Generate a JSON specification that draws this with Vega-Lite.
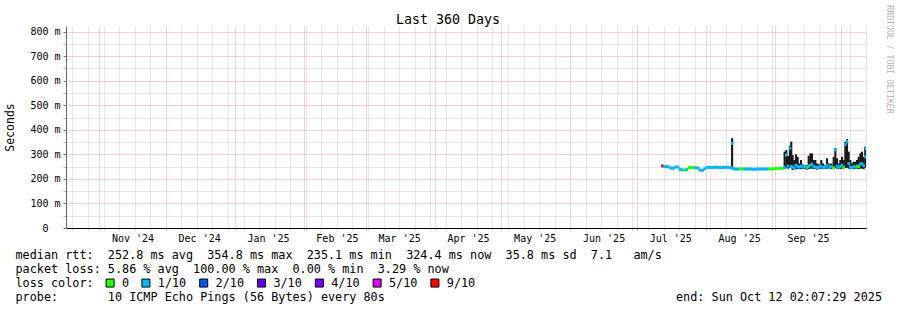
{
  "$schema": "https://vega.github.io/schema/vega-lite/v6.json",
  "width": 800,
  "height": 202,
  "autosize": "none",
  "padding": {"left": 66, "top": 26, "right": 31, "bottom": 82},
  "background": "white",
  "title": {"text": "Last 360 Days", "font": "DejaVu Sans Mono", "fontSize": 13.3, "fontWeight": "normal", "color": "#000000", "anchor": "middle", "frame": "group", "dx": -18, "dy": 35, "offset": 2, "baseline": "alphabetic"},
  "data": {"values": [
    {"t":"2025-07-12T12:00:00","lo":250,"med":253,"hi":256,"loss":"9/10"},
    {"t":"2025-07-13T12:00:00","lo":247,"med":250,"hi":253,"loss":"1/10"},
    {"t":"2025-07-14T12:00:00","lo":247,"med":250,"hi":253,"loss":"1/10"},
    {"t":"2025-07-15T12:00:00","lo":245,"med":248,"hi":251,"loss":"1/10"},
    {"t":"2025-07-16T12:00:00","lo":241,"med":244,"hi":247,"loss":"1/10"},
    {"t":"2025-07-17T12:00:00","lo":241,"med":244,"hi":247,"loss":"1/10"},
    {"t":"2025-07-18T12:00:00","lo":246,"med":249,"hi":252,"loss":"1/10"},
    {"t":"2025-07-19T12:00:00","lo":245,"med":248,"hi":251,"loss":"1/10"},
    {"t":"2025-07-20T12:00:00","lo":235,"med":238,"hi":241,"loss":"1/10"},
    {"t":"2025-07-21T12:00:00","lo":234,"med":237,"hi":240,"loss":"1/10"},
    {"t":"2025-07-22T12:00:00","lo":234,"med":237,"hi":240,"loss":"0"},
    {"t":"2025-07-23T12:00:00","lo":235,"med":238,"hi":241,"loss":"1/10"},
    {"t":"2025-07-24T12:00:00","lo":243,"med":246,"hi":249,"loss":"0"},
    {"t":"2025-07-25T12:00:00","lo":244,"med":247,"hi":250,"loss":"0"},
    {"t":"2025-07-26T12:00:00","lo":243,"med":246,"hi":249,"loss":"0"},
    {"t":"2025-07-27T12:00:00","lo":242,"med":245,"hi":248,"loss":"1/10"},
    {"t":"2025-07-28T12:00:00","lo":241,"med":244,"hi":247,"loss":"1/10"},
    {"t":"2025-07-29T12:00:00","lo":233,"med":236,"hi":239,"loss":"1/10"},
    {"t":"2025-07-30T12:00:00","lo":232,"med":235,"hi":238,"loss":"1/10"},
    {"t":"2025-07-31T12:00:00","lo":238,"med":241,"hi":244,"loss":"1/10"},
    {"t":"2025-08-01T12:00:00","lo":243,"med":246,"hi":250,"loss":"1/10"},
    {"t":"2025-08-02T12:00:00","lo":244,"med":247,"hi":251,"loss":"1/10"},
    {"t":"2025-08-03T12:00:00","lo":244,"med":247,"hi":251,"loss":"1/10"},
    {"t":"2025-08-04T12:00:00","lo":243,"med":246,"hi":250,"loss":"1/10"},
    {"t":"2025-08-05T12:00:00","lo":245,"med":248,"hi":252,"loss":"1/10"},
    {"t":"2025-08-06T12:00:00","lo":244,"med":247,"hi":251,"loss":"1/10"},
    {"t":"2025-08-07T12:00:00","lo":243,"med":246,"hi":250,"loss":"1/10"},
    {"t":"2025-08-08T12:00:00","lo":244,"med":247,"hi":251,"loss":"1/10"},
    {"t":"2025-08-09T12:00:00","lo":244,"med":247,"hi":251,"loss":"1/10"},
    {"t":"2025-08-10T12:00:00","lo":245,"med":248,"hi":252,"loss":"1/10"},
    {"t":"2025-08-11T12:00:00","lo":244,"med":247,"hi":251,"loss":"1/10"},
    {"t":"2025-08-12T12:00:00","lo":243,"med":246,"hi":250,"loss":"1/10"},
    {"t":"2025-08-12T20:00:00","lo":244,"med":345,"hi":366,"loss":"1/10"},
    {"t":"2025-08-13T12:00:00","lo":238,"med":241,"hi":244,"loss":"1/10"},
    {"t":"2025-08-14T12:00:00","lo":237,"med":240,"hi":243,"loss":"1/10"},
    {"t":"2025-08-15T12:00:00","lo":237,"med":240,"hi":243,"loss":"1/10"},
    {"t":"2025-08-16T12:00:00","lo":238,"med":241,"hi":244,"loss":"0"},
    {"t":"2025-08-17T12:00:00","lo":237,"med":240,"hi":243,"loss":"0"},
    {"t":"2025-08-18T12:00:00","lo":238,"med":241,"hi":244,"loss":"1/10"},
    {"t":"2025-08-19T12:00:00","lo":237,"med":240,"hi":243,"loss":"1/10"},
    {"t":"2025-08-20T12:00:00","lo":238,"med":241,"hi":244,"loss":"1/10"},
    {"t":"2025-08-21T12:00:00","lo":237,"med":240,"hi":243,"loss":"1/10"},
    {"t":"2025-08-22T12:00:00","lo":236,"med":239,"hi":242,"loss":"1/10"},
    {"t":"2025-08-23T12:00:00","lo":237,"med":240,"hi":243,"loss":"1/10"},
    {"t":"2025-08-24T12:00:00","lo":238,"med":241,"hi":244,"loss":"1/10"},
    {"t":"2025-08-25T12:00:00","lo":237,"med":240,"hi":243,"loss":"1/10"},
    {"t":"2025-08-26T12:00:00","lo":237,"med":240,"hi":243,"loss":"1/10"},
    {"t":"2025-08-27T12:00:00","lo":238,"med":241,"hi":244,"loss":"1/10"},
    {"t":"2025-08-28T12:00:00","lo":237,"med":240,"hi":243,"loss":"1/10"},
    {"t":"2025-08-29T12:00:00","lo":238,"med":241,"hi":244,"loss":"0"},
    {"t":"2025-08-30T12:00:00","lo":237,"med":240,"hi":243,"loss":"0"},
    {"t":"2025-08-31T12:00:00","lo":238,"med":241,"hi":244,"loss":"0"},
    {"t":"2025-09-01T12:00:00","lo":239,"med":242,"hi":245,"loss":"0"},
    {"t":"2025-09-02T12:00:00","lo":239,"med":242,"hi":245,"loss":"0"},
    {"t":"2025-09-03T12:00:00","lo":240,"med":243,"hi":246,"loss":"0"},
    {"t":"2025-09-04T12:00:00","lo":240,"med":243,"hi":246,"loss":"0"},
    {"t":"2025-09-05T11:00:00","lo":240,"med":246,"hi":311,"loss":"1/10"},
    {"t":"2025-09-06T05:00:00","lo":244,"med":297,"hi":318,"loss":"1/10"},
    {"t":"2025-09-06T23:00:00","lo":242,"med":252,"hi":294,"loss":"1/10"},
    {"t":"2025-09-07T21:00:00","lo":245,"med":325,"hi":335,"loss":"1/10"},
    {"t":"2025-09-08T11:00:00","lo":244,"med":250,"hi":352,"loss":"1/10"},
    {"t":"2025-09-09T02:00:00","lo":236,"med":248,"hi":297,"loss":"1/10"},
    {"t":"2025-09-09T20:00:00","lo":238,"med":243,"hi":277,"loss":"1/10"},
    {"t":"2025-09-10T14:00:00","lo":240,"med":256,"hi":300,"loss":"1/10"},
    {"t":"2025-09-11T08:00:00","lo":240,"med":250,"hi":290,"loss":"1/10"},
    {"t":"2025-09-12T02:00:00","lo":240,"med":248,"hi":263,"loss":"1/10"},
    {"t":"2025-09-12T20:00:00","lo":240,"med":252,"hi":277,"loss":"1/10"},
    {"t":"2025-09-13T14:00:00","lo":241,"med":249,"hi":259,"loss":"1/10"},
    {"t":"2025-09-14T19:00:00","lo":240,"med":250,"hi":256,"loss":"1/10"},
    {"t":"2025-09-15T13:00:00","lo":238,"med":246,"hi":256,"loss":"1/10"},
    {"t":"2025-09-16T07:00:00","lo":240,"med":252,"hi":294,"loss":"0"},
    {"t":"2025-09-17T01:00:00","lo":242,"med":256,"hi":304,"loss":"1/10"},
    {"t":"2025-09-17T19:00:00","lo":242,"med":260,"hi":304,"loss":"1/10"},
    {"t":"2025-09-18T13:00:00","lo":240,"med":250,"hi":277,"loss":"1/10"},
    {"t":"2025-09-19T07:00:00","lo":240,"med":248,"hi":277,"loss":"1/10"},
    {"t":"2025-09-20T01:00:00","lo":238,"med":246,"hi":263,"loss":"1/10"},
    {"t":"2025-09-20T19:00:00","lo":240,"med":248,"hi":260,"loss":"1/10"},
    {"t":"2025-09-21T23:00:00","lo":240,"med":252,"hi":277,"loss":"1/10"},
    {"t":"2025-09-22T18:00:00","lo":240,"med":246,"hi":263,"loss":"1/10"},
    {"t":"2025-09-23T19:00:00","lo":240,"med":248,"hi":256,"loss":"1/10"},
    {"t":"2025-09-24T13:00:00","lo":242,"med":255,"hi":284,"loss":"1/10"},
    {"t":"2025-09-25T07:00:00","lo":240,"med":246,"hi":263,"loss":"1/10"},
    {"t":"2025-09-26T12:00:00","lo":240,"med":250,"hi":263,"loss":"1/10"},
    {"t":"2025-09-27T13:00:00","lo":240,"med":245,"hi":290,"loss":"0"},
    {"t":"2025-09-28T07:00:00","lo":245,"med":318,"hi":325,"loss":"1/10"},
    {"t":"2025-09-29T01:00:00","lo":242,"med":252,"hi":284,"loss":"1/10"},
    {"t":"2025-09-29T19:00:00","lo":240,"med":248,"hi":263,"loss":"1/10"},
    {"t":"2025-09-30T13:00:00","lo":240,"med":250,"hi":277,"loss":"1/10"},
    {"t":"2025-10-01T07:00:00","lo":242,"med":256,"hi":290,"loss":"1/10"},
    {"t":"2025-10-02T01:00:00","lo":240,"med":246,"hi":277,"loss":"0"},
    {"t":"2025-10-02T19:00:00","lo":245,"med":340,"hi":352,"loss":"1/10"},
    {"t":"2025-10-03T13:00:00","lo":245,"med":352,"hi":362,"loss":"1/10"},
    {"t":"2025-10-04T07:00:00","lo":242,"med":262,"hi":311,"loss":"1/10"},
    {"t":"2025-10-05T01:00:00","lo":240,"med":248,"hi":277,"loss":"1/10"},
    {"t":"2025-10-05T19:00:00","lo":240,"med":246,"hi":263,"loss":"1/10"},
    {"t":"2025-10-06T13:00:00","lo":240,"med":250,"hi":270,"loss":"1/10"},
    {"t":"2025-10-07T07:00:00","lo":240,"med":248,"hi":270,"loss":"1/10"},
    {"t":"2025-10-08T01:00:00","lo":242,"med":252,"hi":277,"loss":"0"},
    {"t":"2025-10-08T19:00:00","lo":240,"med":250,"hi":290,"loss":"0"},
    {"t":"2025-10-09T13:00:00","lo":242,"med":260,"hi":304,"loss":"1/10"},
    {"t":"2025-10-10T07:00:00","lo":242,"med":262,"hi":311,"loss":"1/10"},
    {"t":"2025-10-11T01:00:00","lo":240,"med":254,"hi":290,"loss":"1/10"},
    {"t":"2025-10-11T19:00:00","lo":245,"med":290,"hi":331,"loss":"1/10"},
    {"t":"2025-10-12T01:00:00","lo":250,"med":324,"hi":331,"loss":"1/10"}
  ]},
  "encoding": {
    "x": {
      "field": "t", "type": "temporal",
      "scale": {"domain": [{"year": 2024, "month": 10, "date": 17, "hours": 2, "minutes": 7, "seconds": 29}, {"year": 2025, "month": 10, "date": 12, "hours": 2, "minutes": 7, "seconds": 29}]},
      "axis": {
        "values": [
          {"year":2024,"month":10,"date":20},{"year":2024,"month":10,"date":27},
          {"year":2024,"month":11,"date":1},{"year":2024,"month":11,"date":3},{"year":2024,"month":11,"date":10},{"year":2024,"month":11,"date":16},{"year":2024,"month":11,"date":17},{"year":2024,"month":11,"date":24},
          {"year":2024,"month":12,"date":1},{"year":2024,"month":12,"date":8},{"year":2024,"month":12,"date":15},{"year":2024,"month":12,"date":16},{"year":2024,"month":12,"date":22},{"year":2024,"month":12,"date":29},
          {"year":2025,"month":1,"date":1},{"year":2025,"month":1,"date":5},{"year":2025,"month":1,"date":12},{"year":2025,"month":1,"date":16},{"year":2025,"month":1,"date":19},{"year":2025,"month":1,"date":26},
          {"year":2025,"month":2,"date":1},{"year":2025,"month":2,"date":2},{"year":2025,"month":2,"date":9},{"year":2025,"month":2,"date":16},{"year":2025,"month":2,"date":23},
          {"year":2025,"month":3,"date":1},{"year":2025,"month":3,"date":2},{"year":2025,"month":3,"date":9},{"year":2025,"month":3,"date":16},{"year":2025,"month":3,"date":23},{"year":2025,"month":3,"date":30},
          {"year":2025,"month":4,"date":1},{"year":2025,"month":4,"date":6},{"year":2025,"month":4,"date":13},{"year":2025,"month":4,"date":16},{"year":2025,"month":4,"date":20},{"year":2025,"month":4,"date":27},
          {"year":2025,"month":5,"date":1},{"year":2025,"month":5,"date":4},{"year":2025,"month":5,"date":11},{"year":2025,"month":5,"date":16},{"year":2025,"month":5,"date":18},{"year":2025,"month":5,"date":25},
          {"year":2025,"month":6,"date":1},{"year":2025,"month":6,"date":8},{"year":2025,"month":6,"date":15},{"year":2025,"month":6,"date":16},{"year":2025,"month":6,"date":22},{"year":2025,"month":6,"date":29},
          {"year":2025,"month":7,"date":1},{"year":2025,"month":7,"date":6},{"year":2025,"month":7,"date":13},{"year":2025,"month":7,"date":16},{"year":2025,"month":7,"date":20},{"year":2025,"month":7,"date":27},
          {"year":2025,"month":8,"date":1},{"year":2025,"month":8,"date":3},{"year":2025,"month":8,"date":10},{"year":2025,"month":8,"date":16},{"year":2025,"month":8,"date":17},{"year":2025,"month":8,"date":24},{"year":2025,"month":8,"date":31},
          {"year":2025,"month":9,"date":1},{"year":2025,"month":9,"date":7},{"year":2025,"month":9,"date":14},{"year":2025,"month":9,"date":16},{"year":2025,"month":9,"date":21},{"year":2025,"month":9,"date":28},
          {"year":2025,"month":10,"date":1},{"year":2025,"month":10,"date":5},{"year":2025,"month":10,"date":12}
        ],
        "labelExpr": "date(datum.value) == 16 ? timeFormat(datum.value, \"%b '%y\") : ''",
        "labelFont": "DejaVu Sans Mono", "labelFontSize": 10, "labelColor": "#000000",
        "labelBaseline": "alphabetic", "labelAlign": "center", "labelAngle": 0, "labelPadding": 11.5,
        "labelOverlap": false, "labelFlush": false, "labelBound": false,
        "ticks": true, "tickSize": 2,
        "tickColor": {"condition": {"test": "date(datum.value) == 1", "value": "#e88a8a"}, "value": "#b8b8b8"},
        "tickOpacity": {"condition": {"test": "date(datum.value) == 16 && day(datum.value) != 0", "value": 0}, "value": 1},
        "grid": true,
        "gridColor": {"condition": {"test": "date(datum.value) == 1", "value": "#f5a3a3"}, "value": "#cfcfcf"},
        "gridOpacity": {"condition": {"test": "date(datum.value) == 16 && day(datum.value) != 0", "value": 0}, "value": 1},
        "gridDash": [1, 1], "gridWidth": 1,
        "domain": true, "domainColor": "#000000", "domainWidth": 1,
        "title": [
          "median rtt:\u00a0\u00a0252.8 ms avg\u00a0\u00a0354.8 ms max\u00a0\u00a0235.1 ms min\u00a0\u00a0324.4 ms now\u00a0\u00a035.8 ms sd\u00a0\u00a07.1\u00a0\u00a0\u00a0am/s",
          "packet loss: 5.86 % avg\u00a0\u00a0100.00 % max\u00a0\u00a00.00 % min\u00a0\u00a03.29 % now",
          "loss color:",
          "probe:\u00a0\u00a0\u00a0\u00a0\u00a0\u00a0\u00a010 ICMP Echo Pings (56 Bytes) every 80s\u00a0\u00a0\u00a0\u00a0\u00a0\u00a0\u00a0\u00a0\u00a0\u00a0\u00a0\u00a0\u00a0\u00a0\u00a0\u00a0\u00a0\u00a0\u00a0\u00a0\u00a0\u00a0\u00a0\u00a0\u00a0\u00a0\u00a0\u00a0\u00a0\u00a0\u00a0\u00a0\u00a0\u00a0\u00a0\u00a0\u00a0\u00a0\u00a0\u00a0\u00a0end: Sun Oct 12 02:07:29 2025"
        ],
        "titleFont": "DejaVu Sans Mono", "titleFontSize": 11.8, "titleFontWeight": "normal", "titleColor": "#000000",
        "titleAlign": "left", "titleAnchor": "start", "titleBaseline": "alphabetic",
        "titleX": -51, "titleY": 30.5, "titleLineHeight": 14
      }
    }
  },
  "layer": [
    {
      "mark": {"type": "rule", "color": "#1a1a1a", "strokeWidth": 2.1, "clip": true},
      "encoding": {
        "y": {
          "field": "lo", "type": "quantitative",
          "scale": {"domain": [0, 823], "nice": false, "zero": true},
          "axis": {
            "orient": "left",
            "values": [0, 50, 100, 150, 200, 250, 300, 350, 400, 450, 500, 550, 600, 650, 700, 750, 800],
            "labelExpr": "datum.value % 100 == 0 ? (datum.value == 0 ? '0' : datum.value + ' m') : ''",
            "labelFont": "DejaVu Sans Mono", "labelFontSize": 10, "labelColor": "#000000",
            "labelPadding": {"condition": {"test": "datum.value == 0", "value": 15}, "value": 3},
            "labelBaseline": "middle", "labelOverlap": false, "labelFlush": false, "labelBound": false,
            "ticks": true, "tickSize": 3,
            "tickColor": {"condition": {"test": "datum.value % 100 == 0", "value": "#707070"}, "value": "#b8b8b8"},
            "grid": true,
            "gridColor": {"condition": {"test": "datum.value % 100 == 0", "value": "#f5a3a3"}, "value": "#cfcfcf"},
            "gridDash": [1, 1], "gridWidth": 1,
            "domain": true, "domainColor": "#666666", "domainWidth": 1,
            "title": "Seconds",
            "titleFont": "DejaVu Sans Mono", "titleFontSize": 11.5, "titleFontWeight": "normal", "titleColor": "#000000",
            "titleAngle": -90, "titleAlign": "center", "titleBaseline": "middle",
            "titleX": -55.5, "titleY": 101
          }
        },
        "y2": {"field": "hi"}
      }
    },
    {
      "mark": {"type": "tick", "orient": "horizontal", "size": 2.6, "thickness": 3, "opacity": 1, "clip": true},
      "encoding": {
        "y": {
          "field": "med", "type": "quantitative",
          "scale": {"domain": [0, 823], "nice": false, "zero": true},
          "axis": {
            "orient": "right", "labels": false, "ticks": false, "domain": false, "grid": false,
            "title": "RRDTOOL / TOBI OETIKER",
            "titleFont": "DejaVu Sans Mono", "titleFontSize": 8.2, "titleFontWeight": "normal", "titleColor": "#b4b4b4",
            "titleAngle": 90, "titleAlign": "center", "titleBaseline": "middle",
            "titleX": 22, "titleY": 33
          }
        },
        "color": {
          "field": "loss", "type": "nominal",
          "scale": {"domain": ["0", "1/10", "2/10", "3/10", "4/10", "5/10", "9/10"], "range": ["#26ff00", "#00b8ff", "#0059ff", "#5e00ff", "#7e00ff", "#dd00ff", "#ff0000"]},
          "legend": {
            "title": null, "orient": "none", "legendX": 38.2, "legendY": 251,
            "direction": "horizontal", "columns": 7, "padding": 0, "rowPadding": 0, "columnPadding": 9.8,
            "labelFont": "DejaVu Sans Mono", "labelFontSize": 11.8, "labelColor": "#000000", "labelOffset": 6,
            "symbolType": "square", "symbolSize": 64, "symbolStrokeColor": "#000000", "symbolStrokeWidth": 1, "symbolOpacity": 1
          }
        }
      }
    }
  ],
  "resolve": {"scale": {"y": "independent"}, "axis": {"y": "independent"}},
  "config": {"view": {"stroke": null}, "font": "DejaVu Sans Mono"}
}
